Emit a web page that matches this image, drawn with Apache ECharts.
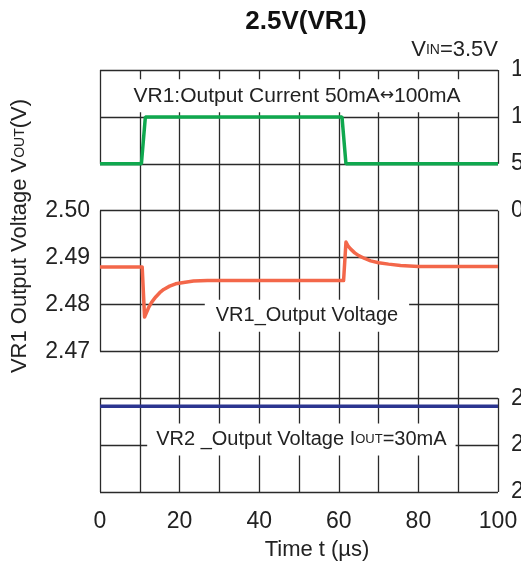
<!DOCTYPE html>
<html>
<head>
<meta charset="utf-8">
<script src="https://cdn.jsdelivr.net/npm/echarts@6/dist/echarts.min.js"></script>
<style>html,body{margin:0;padding:0;background:#fff}#c{width:521px;height:564px}</style>
</head>
<body>
<div id="c"></div>
<script>
// ---- data ----
const currentT = [0, 10.4, 11.4, 60.8, 61.8, 100];
const currentMA = [50, 50, 100, 100, 50, 50];
const vr1T = [0, 10.6, 11.2, 11.6, 12.2, 13.0, 14.0, 15.0, 16.0, 17.5, 19.0, 21.0, 23.5, 27.0, 61.2, 61.8, 62.3, 63.0, 64.0, 65.0, 66.5, 68.0, 70.0, 72.5, 75.5, 80.0, 100];
const vr1V = [2.4880, 2.4880, 2.4773, 2.4781, 2.4793, 2.4805, 2.4816, 2.4825, 2.4832, 2.4839, 2.4844, 2.4847, 2.4850, 2.4851, 2.4851, 2.4933, 2.4925, 2.4918, 2.4910, 2.4904, 2.4898, 2.4893, 2.4889, 2.4886, 2.4883, 2.4881, 2.4881];
const vr2T = [0, 100];
const vr2V = [2.8183, 2.8183];
const xTickLabels = [0, 20, 40, 60, 80, 100];
const leftTickLabels = ['2.47', '2.48', '2.49', '2.50'];
const currentTickLabels = [0, 50, 100, 150];
const vr2TickLabels = ['2.80', '2.81', '2.82'];

const FONT = "'Liberation Sans', Arial, sans-serif";
const GRID = '#2a2a2a';
const TXT = '#222';
const zip = (a, b) => a.map((v, i) => [v, b[i]]);

const chart = echarts.init(document.getElementById('c'), null, {renderer: 'canvas'});
const border = (x, y0, y1) => [{coord: [x, y0]}, {coord: [x, y1]}];

chart.setOption({
  animation: false,
  backgroundColor: '#fff',
  textStyle: {fontFamily: FONT},
  graphic: [
    {type: 'text', x: 306, y: 9, style: {text: '2.5V(VR1)', fontFamily: FONT, fontWeight: 'bold', fontSize: 26, fill: '#111', textAlign: 'center'}},
    {type: 'text', x: 498, y: 39, style: {text: 'V{s|IN}=3.5V', fontFamily: FONT, fontSize: 22, fill: TXT, textAlign: 'right', rich: {s: {fontSize: 14, fontFamily: FONT, fill: TXT}}}},
    {type: 'text', x: 20, y: 236, rotation: Math.PI / 2, style: {text: 'VR1 Output Voltage V{s|OUT}(V)', fontFamily: FONT, fontSize: 22, fill: TXT, textAlign: 'center', textVerticalAlign: 'middle', rich: {s: {fontSize: 14, fontFamily: FONT, fill: TXT}}}},
    {type: 'text', x: 317, y: 550, style: {text: 'Time t (µs)', fontFamily: FONT, fontSize: 22, fill: TXT, textAlign: 'center', textVerticalAlign: 'middle'}}
  ],
  grid: {left: 100, right: 23, top: 70, bottom: 72, show: false, outerBoundsMode: 'none', containLabel: false},
  xAxis: {
    type: 'value', min: 0, max: 100, interval: 10,
    axisLine: {show: false}, axisTick: {show: false},
    axisLabel: {fontSize: 23, color: TXT, margin: 18, fontFamily: FONT,
      formatter: v => xTickLabels.includes(Math.round(v)) ? String(Math.round(v)) : ''},
    splitLine: {show: true, showMinLine: false, showMaxLine: false, lineStyle: {color: GRID, width: 1.3}}
  },
  yAxis: [
    {
      type: 'value', min: 2.44, max: 2.53, interval: 0.01, position: 'left',
      axisLine: {show: false}, axisTick: {show: false},
      axisLabel: {fontSize: 23, color: TXT, margin: 10, fontFamily: FONT,
        formatter: v => leftTickLabels.includes(v.toFixed(2)) ? v.toFixed(2) : ''},
      splitLine: {show: true, lineStyle: {color: GRID, width: 1.3}}
    },
    {
      type: 'value', min: -300, max: 150, interval: 50, position: 'right',
      axisLine: {show: false}, axisTick: {show: false}, splitLine: {show: false},
      axisLabel: {fontSize: 23, color: TXT, margin: 13, fontFamily: FONT,
        formatter: v => currentTickLabels.includes(Math.round(v)) ? String(Math.round(v)) : ''}
    },
    {
      type: 'value', min: 2.80, max: 2.89, interval: 0.01, position: 'right',
      axisLine: {show: false}, axisTick: {show: false}, splitLine: {show: false},
      axisLabel: {fontSize: 23, color: TXT, margin: 13, fontFamily: FONT,
        formatter: v => vr2TickLabels.includes(v.toFixed(2)) ? v.toFixed(2) : ''}
    }
  ],
  series: [
    {
      name: 'VR1 current', type: 'line', yAxisIndex: 1, data: zip(currentT, currentMA),
      symbol: 'none', lineStyle: {color: '#0fa84e', width: 3.5}, z: 5
    },
    {
      name: 'VR1 voltage', type: 'line', yAxisIndex: 0, data: zip(vr1T, vr1V),
      symbol: 'none', smooth: false, lineStyle: {color: '#f3674a', width: 3.5, join: 'round'}, z: 5,
      markLine: {
        silent: true, symbol: 'none', label: {show: false},
        lineStyle: {color: GRID, width: 1.3, type: 'solid'},
        data: [
          border(0, 2.53, 2.51), border(100, 2.53, 2.51),
          border(0, 2.50, 2.47), border(100, 2.50, 2.47),
          border(0, 2.46, 2.44), border(100, 2.46, 2.44)
        ]
      },
      markPoint: {
        silent: true, symbol: 'rect', symbolSize: 1, itemStyle: {color: 'rgba(0,0,0,0)'},
        label: {show: true, position: 'inside', color: TXT, fontSize: 21, fontFamily: FONT, backgroundColor: '#fff', padding: [6, 6],
          rich: {a: {fontFamily: "'DejaVu Sans', sans-serif", fontSize: 17, color: TXT}}},
        data: [
          {coord: [49.5, 2.5245], label: {formatter: 'VR1:Output Current 50mA{a|↔}100mA'}},
          {coord: [52, 2.4776], label: {formatter: 'VR1_Output Voltage', fontSize: 20, padding: [6, 11]}}
        ]
      }
    },
    {
      name: 'VR2 voltage', type: 'line', yAxisIndex: 2, data: zip(vr2T, vr2V),
      symbol: 'none', lineStyle: {color: '#2b3590', width: 3.5}, z: 5,
      markPoint: {
        silent: true, symbol: 'rect', symbolSize: 1, itemStyle: {color: 'rgba(0,0,0,0)'},
        label: {show: true, position: 'inside', color: TXT, fontSize: 20, fontFamily: FONT, backgroundColor: '#fff', padding: [6, 9],
          rich: {s: {fontSize: 13, color: TXT, fontFamily: FONT}}},
        data: [
          {coord: [50.6, 2.8112], label: {formatter: 'VR2 _Output Voltage I{s|OUT}=30mA'}}
        ]
      }
    }
  ]
});
</script>
</body>
</html>
